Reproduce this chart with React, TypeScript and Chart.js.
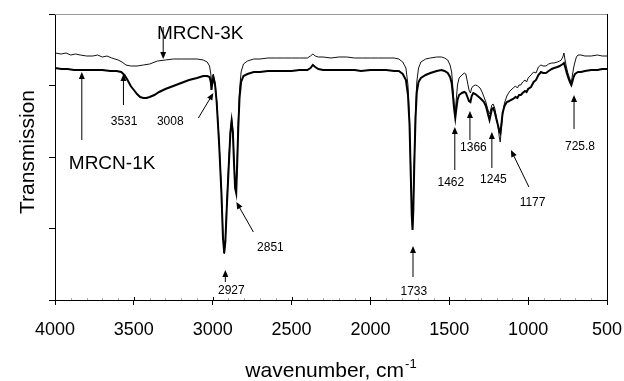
import React, { useEffect, useRef } from 'react';
import { Chart, registerables } from 'chart.js';

Chart.register(...registerables);

const FONT = '"Liberation Sans", Arial, Helvetica, sans-serif';

// ---- Data (transmission in arbitrary units, axis 0..286) ----
const WN_3K = [4000, 3960, 3930, 3900, 3870, 3840, 3800, 3760, 3730, 3700, 3670, 3640, 3600, 3575, 3550, 3520, 3480, 3440, 3400, 3350, 3300, 3250, 3200, 3150, 3100, 3060, 3035, 3020, 3012, 3008, 3002, 2996, 2985, 2975, 2960, 2945, 2935, 2927, 2920, 2910, 2898, 2888, 2880, 2872, 2865, 2858, 2851, 2845, 2838, 2830, 2820, 2805, 2780, 2740, 2700, 2650, 2600, 2550, 2500, 2450, 2400, 2380, 2365, 2350, 2330, 2300, 2250, 2200, 2150, 2100, 2050, 2000, 1950, 1900, 1850, 1820, 1795, 1775, 1762, 1752, 1745, 1738, 1733, 1728, 1722, 1714, 1706, 1695, 1680, 1650, 1620, 1580, 1550, 1530, 1510, 1495, 1485, 1477, 1470, 1462, 1456, 1448, 1438, 1420, 1405, 1395, 1385, 1375, 1366, 1358, 1348, 1335, 1320, 1305, 1292, 1280, 1268, 1258, 1250, 1245, 1238, 1230, 1222, 1212, 1200, 1190, 1183, 1177, 1170, 1162, 1150, 1135, 1120, 1109, 1095, 1080, 1068, 1058, 1046, 1035, 1020, 1010, 1000, 982, 965, 950, 935, 919, 905, 887, 870, 850, 836, 815, 800, 790, 780, 773, 768, 760, 750, 740, 733, 726, 720, 712, 703, 694, 684, 665, 640, 600, 560, 530, 500];
const T_3K = [247, 246, 247, 245, 246, 245, 244, 244, 245, 243, 244, 242, 240, 238, 235, 234, 234, 235, 236, 239, 240, 241, 241, 241, 241, 240, 238, 234, 226, 218, 224, 226, 218, 200, 160, 110, 65, 46, 60, 100, 140, 170, 182, 170, 140, 115, 110, 140, 180, 210, 228, 236, 239, 241, 241, 242, 242, 242, 242, 242, 242, 244, 246, 244, 243, 243, 242, 243, 243, 242, 242, 242, 242, 242, 242, 241, 238, 232, 215, 180, 135, 90, 72, 95, 140, 190, 218, 232, 238, 241, 242, 243, 243, 242, 240, 235, 228, 212, 197, 187, 200, 215, 222, 225, 227, 226, 218, 210, 207, 212, 214, 215, 214, 212, 208, 203, 198, 192, 188, 186, 190, 195, 196, 192, 182, 172, 163, 158, 170, 185, 197, 204, 208, 210, 212, 214, 212, 215, 215, 218, 220, 218, 222, 225, 228, 227, 233, 235, 234, 234, 236, 237, 237, 238, 239, 240, 243, 247, 242, 235, 228, 223, 220, 218, 224, 232, 238, 243, 245, 245, 244, 244, 245, 244, 244];

const WN_1K = [4000, 3960, 3920, 3880, 3840, 3800, 3750, 3700, 3650, 3610, 3580, 3560, 3540, 3520, 3500, 3480, 3460, 3440, 3420, 3400, 3370, 3340, 3300, 3250, 3200, 3150, 3100, 3060, 3035, 3020, 3012, 3008, 3002, 2996, 2985, 2975, 2960, 2945, 2935, 2927, 2920, 2910, 2898, 2888, 2880, 2872, 2865, 2858, 2851, 2845, 2838, 2830, 2820, 2805, 2780, 2740, 2700, 2650, 2600, 2550, 2500, 2450, 2400, 2380, 2365, 2350, 2330, 2300, 2250, 2200, 2150, 2100, 2060, 2000, 1950, 1900, 1850, 1820, 1795, 1775, 1762, 1752, 1745, 1738, 1733, 1728, 1722, 1714, 1706, 1695, 1680, 1650, 1620, 1580, 1550, 1530, 1510, 1495, 1485, 1477, 1470, 1462, 1456, 1448, 1438, 1420, 1405, 1395, 1385, 1375, 1366, 1358, 1348, 1335, 1320, 1305, 1292, 1280, 1268, 1258, 1250, 1245, 1238, 1230, 1222, 1212, 1200, 1190, 1183, 1177, 1170, 1162, 1150, 1135, 1120, 1109, 1095, 1080, 1068, 1058, 1046, 1035, 1020, 1010, 1000, 982, 965, 950, 935, 919, 905, 887, 870, 850, 836, 815, 800, 790, 780, 773, 765, 755, 745, 735, 726, 720, 712, 703, 694, 684, 665, 640, 600, 560, 530, 500];
const T_1K = [232, 231, 231, 230, 230, 230, 230, 230, 229, 229, 228, 225, 220, 214, 210, 206, 203, 202, 202, 203, 205, 208, 211, 214, 217, 220, 222, 224, 224, 223, 218, 210, 218, 222, 215, 198, 158, 108, 62, 47, 58, 95, 135, 167, 179, 167, 137, 112, 107, 135, 172, 202, 218, 224, 226, 228, 228, 229, 229, 229, 229, 230, 230, 232, 235, 233, 231, 230, 230, 230, 230, 230, 229, 230, 230, 230, 229, 229, 226, 220, 205, 175, 130, 85, 70, 90, 135, 182, 208, 218, 222, 225, 227, 229, 230, 229, 227, 223, 217, 205, 192, 182, 190, 200, 205, 207, 208, 207, 203, 199, 198, 204, 207, 206, 204, 202, 200, 198, 194, 188, 183, 180, 185, 191, 192, 188, 180, 174, 169, 167, 175, 187, 194, 198, 199, 200, 201, 203, 202, 205, 205, 207, 209, 208, 211, 213, 218, 220, 225, 228, 227, 227, 229, 231, 232, 233, 234, 235, 236, 237, 233, 227, 222, 218, 215, 218, 223, 226, 227, 228, 228, 229, 230, 230, 231, 231];

const SERIES_NAMES = ['MRCN-3K', 'MRCN-1K'];
const PEAK_LABELS = ['3531', '3008', '2927', '2851', '1733', '1462', '1366', '1245', '1177', '725.8'];

// ---- Annotation layout (data coordinates: wavenumber, transmission units) ----
const SERIES_LABEL_POS = [
  { wn: 3079, v: 266.5, from: [3314, 273], to: [3314, 241] },
  { wn: 3638, v: 136.5, from: [3830, 160], to: [3830, 228] },
];
const PEAK_LABEL_POS = [
  { wn: 3562, v: 178, from: [3566, 195], to: [3566, 226] },
  { wn: 3269, v: 178, from: [3091, 182], to: [2996, 207] },
  { wn: 2882, v: 9.5, from: [2920, 18], to: [2920, 30] },
  { wn: 2634, v: 52, from: [2742, 68], to: [2850, 98] },
  { wn: 1725, v: 8, from: [1730, 23], to: [1730, 54] },
  { wn: 1490, v: 117, from: [1465, 130], to: [1465, 173] },
  { wn: 1347, v: 152, from: [1369, 160], to: [1369, 189] },
  { wn: 1220, v: 120, from: [1230, 132], to: [1230, 168] },
  { wn: 972, v: 97, from: [995, 113], to: [1109, 150] },
  { wn: 671, v: 153, from: [709, 171], to: [709, 205] },
];

function drawArrow(ctx: CanvasRenderingContext2D, x1: number, y1: number, x2: number, y2: number) {
  const ang = Math.atan2(y2 - y1, x2 - x1);
  const len = 7;
  const hw = 3;
  ctx.beginPath();
  ctx.moveTo(x1, y1);
  ctx.lineTo(x2 - Math.cos(ang) * len * 0.8, y2 - Math.sin(ang) * len * 0.8);
  ctx.stroke();
  ctx.beginPath();
  ctx.moveTo(x2, y2);
  ctx.lineTo(x2 - Math.cos(ang) * len - Math.sin(ang) * hw, y2 - Math.sin(ang) * len + Math.cos(ang) * hw);
  ctx.lineTo(x2 - Math.cos(ang) * len + Math.sin(ang) * hw, y2 - Math.sin(ang) * len - Math.cos(ang) * hw);
  ctx.closePath();
  ctx.fill();
}

const overlay = {
  id: 'overlay',
  afterDraw(chart: any) {
    const { ctx, chartArea: a, scales } = chart;
    const xs = scales.x;
    const ys = scales.y;
    ctx.save();
    // top border (grey) and right border (black)
    ctx.lineWidth = 1;
    ctx.strokeStyle = '#999';
    ctx.beginPath();
    ctx.moveTo(a.left, Math.round(a.top) + 0.5);
    ctx.lineTo(a.right, Math.round(a.top) + 0.5);
    ctx.stroke();
    ctx.strokeStyle = '#000';
    ctx.beginPath();
    ctx.moveTo(Math.round(a.right) + 0.5, a.top);
    ctx.lineTo(Math.round(a.right) + 0.5, a.bottom);
    ctx.stroke();
    // inner part of major x ticks, and minor ticks
    for (let w = 500; w <= 4000; w += 100) {
      const px = Math.round(xs.getPixelForValue(w)) + 0.5;
      const major = w % 500 === 0;
      ctx.strokeStyle = major ? '#000' : '#aaa';
      ctx.beginPath();
      ctx.moveTo(px, a.bottom - (major ? 3 : 2));
      ctx.lineTo(px, a.bottom);
      ctx.stroke();
    }
    // annotations
    ctx.fillStyle = '#000';
    ctx.strokeStyle = '#000';
    ctx.lineWidth = 1;
    ctx.textAlign = 'center';
    ctx.textBaseline = 'middle';
    ctx.font = `12px ${FONT}`;
    PEAK_LABEL_POS.forEach((p, i) => {
      ctx.fillText(PEAK_LABELS[i], xs.getPixelForValue(p.wn), ys.getPixelForValue(p.v));
      drawArrow(ctx, xs.getPixelForValue(p.from[0]), ys.getPixelForValue(p.from[1]),
        xs.getPixelForValue(p.to[0]), ys.getPixelForValue(p.to[1]));
    });
    ctx.font = `19px ${FONT}`;
    SERIES_LABEL_POS.forEach((p, i) => {
      ctx.fillText(SERIES_NAMES[i], xs.getPixelForValue(p.wn), ys.getPixelForValue(p.v));
      drawArrow(ctx, xs.getPixelForValue(p.from[0]), ys.getPixelForValue(p.from[1]),
        xs.getPixelForValue(p.to[0]), ys.getPixelForValue(p.to[1]));
    });
    // x axis title with superscript
    const main = 'wavenumber, cm';
    const sup = '-1';
    ctx.font = `21px ${FONT}`;
    const wMain = ctx.measureText(main).width;
    ctx.font = `13px ${FONT}`;
    const wSup = ctx.measureText(sup).width;
    const cx = (a.left + a.right) / 2;
    const startX = cx - (wMain + wSup + 1) / 2;
    const base = chart.height - 4;
    ctx.textAlign = 'left';
    ctx.textBaseline = 'alphabetic';
    ctx.font = `21px ${FONT}`;
    ctx.fillText(main, startX, base);
    ctx.font = `13px ${FONT}`;
    ctx.fillText(sup, startX + wMain + 1, base - 9);
    // y axis title
    ctx.save();
    ctx.translate(28, (a.top + a.bottom) / 2 - 5);
    ctx.rotate(-Math.PI / 2);
    ctx.textAlign = 'center';
    ctx.textBaseline = 'middle';
    ctx.font = `21px ${FONT}`;
    ctx.fillText('Transmission', 0, 0);
    ctx.restore();
    ctx.restore();
  },
};

export default function App() {
  const ref = useRef<HTMLCanvasElement>(null);
  useEffect(() => {
    if (!ref.current) return;
    const chart = new Chart(ref.current, {
      type: 'line',
      data: {
        datasets: [
          {
            label: SERIES_NAMES[1],
            data: WN_1K.map((w, i) => ({ x: w, y: T_1K[i] })),
            borderColor: '#000',
            borderWidth: 2,
            pointRadius: 0,
            tension: 0,
          },
          {
            label: SERIES_NAMES[0],
            data: WN_3K.map((w, i) => ({ x: w, y: T_3K[i] })),
            borderColor: '#111',
            borderWidth: 1,
            pointRadius: 0,
            tension: 0,
          },
        ],
      },
      options: {
        responsive: false,
        animation: false,
        events: [],
        layout: { padding: { top: 14, right: 17, left: 0, bottom: 0 } },
        plugins: { legend: { display: false }, tooltip: { enabled: false } },
        scales: {
          x: {
            type: 'linear',
            reverse: true,
            min: 500,
            max: 4000,
            afterFit: (s: any) => { s.height = 81; s.paddingLeft = 0; s.paddingRight = 0; },
            ticks: {
              stepSize: 500,
              color: '#000',
              font: { family: FONT, size: 18 },
              padding: 14,
              maxRotation: 0,
              autoSkip: false,
              callback: (v: any) => String(v),
            },
            grid: { drawOnChartArea: false, color: '#000', tickLength: 5 },
            border: { color: '#000' },
          },
          y: {
            type: 'linear',
            min: 0,
            max: 286,
            afterFit: (s: any) => { s.width = 55; s.paddingTop = 0; s.paddingBottom = 0; },
            ticks: { stepSize: 71.5, display: false },
            grid: { drawOnChartArea: false, color: '#000', tickLength: 6 },
            border: { color: '#000' },
          },
        },
      } as any,
      plugins: [overlay],
    });
    return () => chart.destroy();
  }, []);
  return (
    <div style={{ position: 'absolute', left: 0, top: 0, width: 624, height: 381, background: '#fff' }}>
      <canvas ref={ref} width={624} height={381} style={{ display: 'block' }} />
    </div>
  );
}
